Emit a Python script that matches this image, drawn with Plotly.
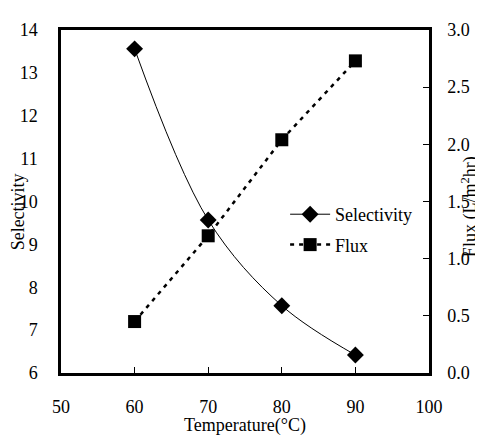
import plotly.graph_objects as go

temperature = [60, 70, 80, 90]
selectivity = [13.56, 9.57, 7.57, 6.42]
flux = [0.45, 1.20, 2.04, 2.73]

x_ticks = [50, 60, 70, 80, 90, 100]
y_ticks = [6, 7, 8, 9, 10, 11, 12, 13, 14]
y2_ticks = [0.0, 0.5, 1.0, 1.5, 2.0, 2.5, 3.0]

FONT = "Liberation Serif, Times New Roman, serif"

fig = go.Figure()
fig.add_trace(go.Scatter(
    x=temperature, y=selectivity, name="Selectivity", legendgroup="s",
    mode="lines+markers", line=dict(color="black", width=1, shape="spline"),
    marker=dict(symbol="diamond", size=13, color="black"),
))
fig.add_trace(go.Scatter(
    x=temperature, y=flux, name="Flux", yaxis="y2", legendgroup="f",
    mode="lines+markers", line=dict(color="black", width=2.5, dash="4px,5px"),
    marker=dict(symbol="square", size=13, color="black"),
))

# page body has an 8px margin, so the figure is drawn at (8, 8)
fig.update_layout(
    width=475, height=427,
    margin=dict(l=53, r=54, t=12, b=62),
    paper_bgcolor="white", plot_bgcolor="white",
    font=dict(family=FONT, size=18, color="black"),
    showlegend=True,
    legend=dict(x=0.609, y=0.516, xanchor="left", yanchor="top",
                bgcolor="rgba(0,0,0,0)", font=dict(size=18),
                traceorder="grouped", tracegroupgap=4, itemwidth=40),
    xaxis=dict(range=[50, 100], tickvals=x_ticks, ticks="inside", ticklen=6,
               tickwidth=1, tickcolor="black",
               showline=True, linecolor="black", linewidth=2.5, mirror=True,
               showgrid=False, zeroline=False, ticklabelstandoff=16),
    yaxis=dict(range=[6, 14], tickvals=y_ticks, ticks="",
               showline=True, linecolor="black", linewidth=2.5,
               showgrid=False, zeroline=False, ticklabelstandoff=17),
    yaxis2=dict(range=[0, 3.0], tickvals=y2_ticks, tickformat=".1f",
                overlaying="y", side="right", ticks="inside", ticklen=6,
                tickwidth=1, tickcolor="black",
                showline=True, linecolor="black", linewidth=2.5,
                showgrid=False, zeroline=False, ticklabelstandoff=12),
    annotations=[
        dict(text="Temperature(°C)", xref="paper", yref="paper",
             x=0.5, y=-0.153, xanchor="center", yanchor="middle",
             showarrow=False, font=dict(size=18)),
        dict(text="Selectivity", xref="paper", yref="paper",
             x=-0.118, y=0.47, xanchor="center", yanchor="middle",
             textangle=-90, showarrow=False, font=dict(size=18)),
        dict(text="Flux (L/m<sup>2</sup>hr)", xref="paper", yref="paper",
             x=1.11, y=0.485, xanchor="center", yanchor="middle",
             textangle=-90, showarrow=False, font=dict(size=18)),
    ],
)

fig.write_html("out.html")
